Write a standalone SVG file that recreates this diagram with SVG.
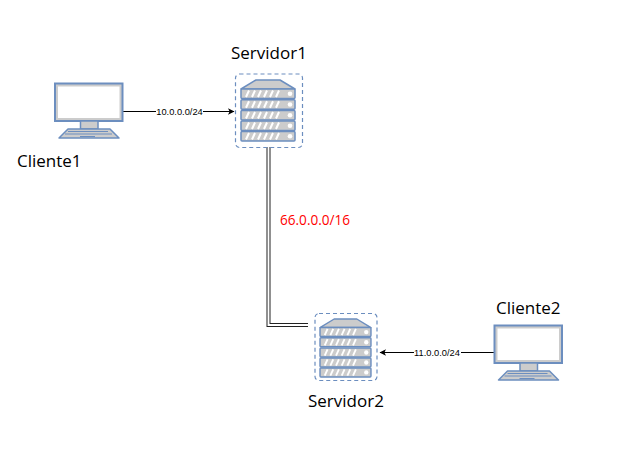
<svg xmlns="http://www.w3.org/2000/svg" width="621" height="465" viewBox="0 0 621 465">
<style>
text{font-family:"Open Sans","Noto Sans",sans-serif;fill:#000}
.lbl{font-size:17px}
.edge{font-family:"Liberation Sans",Arial,sans-serif;font-size:9.300px;text-anchor:middle}
.s{stroke:#6c8ebf;stroke-width:1.500;fill:#ccc;stroke-linejoin:round}
.m{stroke:#6c8ebf;stroke-width:2;fill:#ccc}
.t{stroke:#6c8ebf;stroke-width:1;fill:none}
.dash{fill:none;stroke:#6c8ebf;stroke-width:1.200;stroke-dasharray:4 3}
.w{fill:#fff}
.line{fill:none;stroke:#000;stroke-width:1}
.hatch{stroke:#fff;stroke-width:2;fill:none}
</style>
<defs>
<marker id="arr" markerWidth="7" markerHeight="7" refX="6" refY="3.500" orient="auto" markerUnits="userSpaceOnUse"><path d="M0 0.300L6.500 3.500L0 6.700L1.600 3.500Z" fill="#000"/></marker>
<g id="pc">
<path class="m" d="M55 83.500H122.500V121H55Z"/>
<path class="w" d="M58 86.500H119.500V118H58Z"/>
<path class="s" d="M80.500 121H98V129H80.500Z"/>
<path class="s" d="M68 129H110L119 138H59Z"/>
<path class="t" d="M68 131.500H108M65 134H112M80 136.500H95"/>
</g>
<g id="unit">
<rect class="s" x="0" y="0" width="54" height="9.500" rx="1"/>
<path class="hatch" d="M5 8L8 1.500M11 8L14 1.500M17 8L20 1.500M23 8L26 1.500M29 8L32 1.500M35 8L38 1.500"/>
<circle cx="49" cy="4.750" r="2.300" fill="#fff"/>
</g>
<g id="rack">
<path class="s" d="M0 9L15 0H39L54 9Z"/>
<use href="#unit" y="9"/>
<use href="#unit" y="19.750"/>
<use href="#unit" y="30.500"/>
<use href="#unit" y="41"/>
<use href="#unit" y="51.500"/>
</g>
</defs>
<g id="connectors">
<path class="line" d="M123 111.500H234" marker-end="url(#arr)"/>
<path class="line" d="M494 352.500H380" marker-end="url(#arr)"/>
<path d="M268.500 147V325H308" fill="none" stroke="#222" stroke-width="4"/>
<path d="M268.500 147V325H308" fill="none" stroke="#fff" stroke-width="2"/>
<rect x="156" y="106" width="47" height="11" fill="#fff"/>
<text class="edge" x="179.500" y="114.500">10.0.0.0/24</text>
<rect x="414" y="347" width="47" height="11" fill="#fff"/>
<text class="edge" x="437" y="355.500">11.0.0.0/24</text>
</g>
<g id="Cliente1">
<use href="#pc"/>
<text class="lbl" x="17" y="167">Cliente1</text>
</g>
<g id="Servidor1">
<rect class="dash" x="235.500" y="74" width="67" height="73.500" rx="4"/>
<use href="#rack" x="241" y="80"/>
<text class="lbl" x="231" y="59">Servidor1</text>
</g>
<g id="Servidor2">
<rect class="dash" x="315" y="313.500" width="62" height="67" rx="4"/>
<use href="#rack" transform="translate(320 319) scale(.944 .95)"/>
<text class="lbl" x="308" y="407">Servidor2</text>
</g>
<g id="Cliente2">
<use href="#pc" transform="translate(439.500 242)"/>
<text class="lbl" x="496" y="314">Cliente2</text>
</g>
<text x="280" y="225" font-size="13.600" style="fill:#ff0000">66.0.0.0/16</text>
</svg>
